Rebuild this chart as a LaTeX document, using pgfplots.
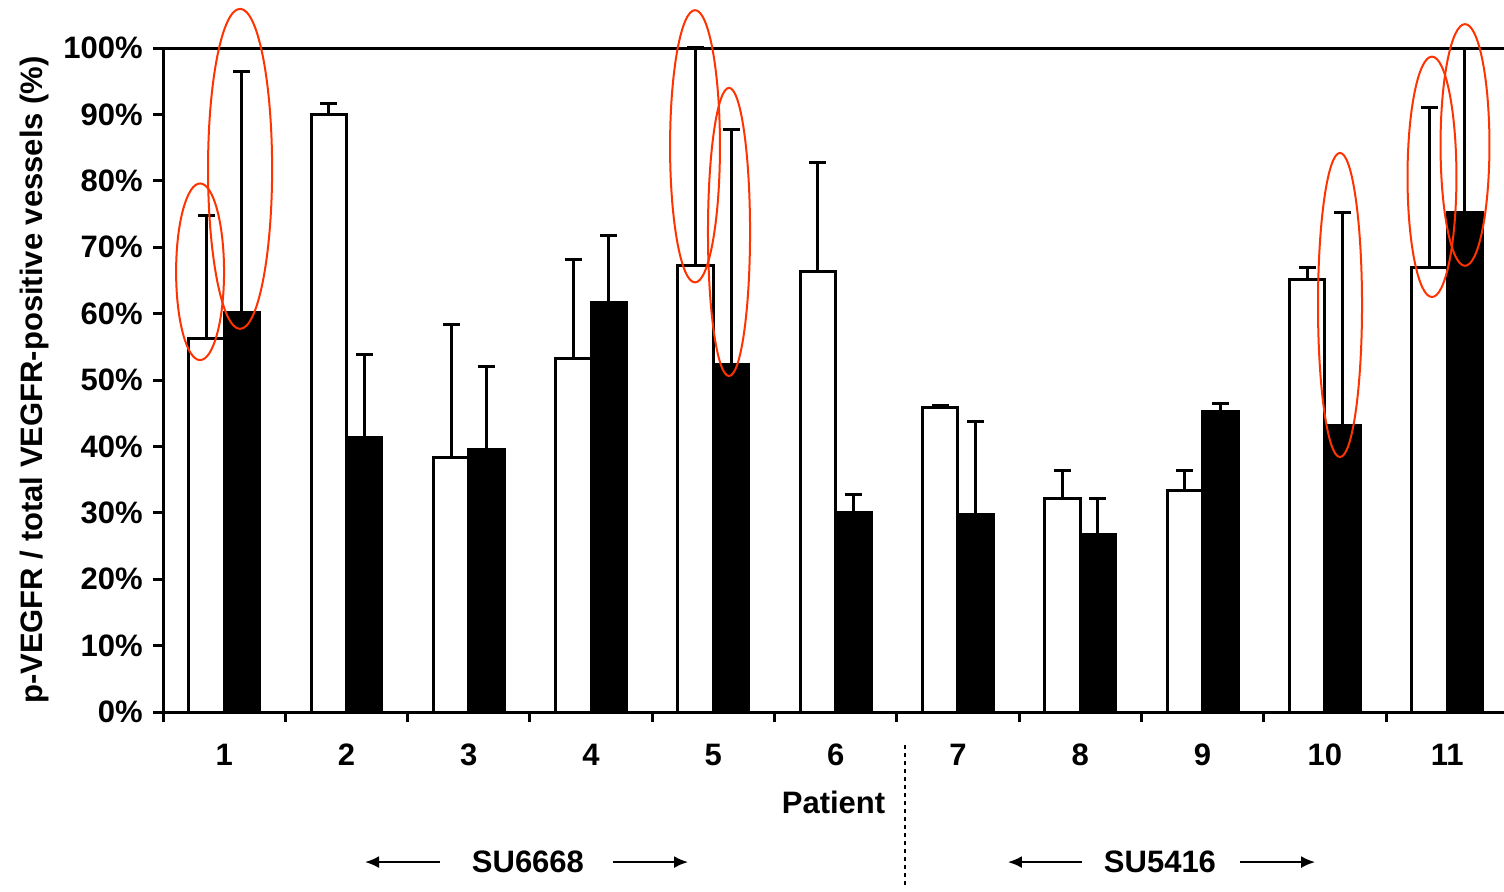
\documentclass[border=0pt]{standalone}
\usepackage{pgfplots}
\pgfplotsset{compat=1.18}
\usepackage{fontspec}
\setmainfont{Liberation Sans}
\usetikzlibrary{arrows.meta}
\definecolor{ellred}{RGB}{255,51,0}
\newcommand{\lbl}{\fontsize{15.5}{18}\selectfont\bfseries}

\begin{document}
\begin{tikzpicture}
\begin{axis}[
  scale only axis, width=670.5pt, height=332pt,
  xmin=0.5, xmax=11.465, ymin=0, ymax=100,
  axis lines*=left, axis line style={line width=1.5pt, -},
  clip=false,
  xtick={1,...,11},
  xticklabels={1,2,3,4,5,6,7,8,9,10,11},
  minor xtick={0.5,1.5,...,10.5},
  major x tick style={draw=none},
  minor tick length=5pt, major tick length=5pt,
  tick align=outside,
  tick style={line width=1.5pt, black},
  ytick={0,10,...,100},
  yticklabels={0\%,10\%,20\%,30\%,40\%,50\%,60\%,70\%,80\%,90\%,100\%},
  every tick label/.append style={font=\lbl},
  yticklabel style={anchor=east, inner xsep=0pt, xshift=-5pt},
  xticklabel style={anchor=center, inner sep=0pt, yshift=-16.5pt},
  xlabel={Patient},
  xlabel style={font=\lbl, at={(rel axis cs:0.5,0)}, anchor=center, yshift=-45pt},
  ylabel={p-VEGFR / total VEGFR-positive vessels (\%)},
  ylabel style={font=\lbl, at={(rel axis cs:0,0.5)}, anchor=center, yshift=64.5pt},
]
% white bars
\addplot[ybar, bar width=0.29, bar shift=0, fill=white, draw=black, line width=1.5pt,
  error bars/.cd, y dir=plus, y explicit,
  error bar style={line width=1.5pt, black},
  error mark options={rotate=90, mark size=4.25pt, line width=1.5pt, black}]
coordinates {
(0.855,56.3) +- (0,18.5)
(1.855,90.0) +- (0,1.7)
(2.855,38.4) +- (0,19.9)
(3.855,53.3) +- (0,14.9)
(4.855,67.2) +- (0,32.9)
(5.855,66.4) +- (0,16.3)
(6.855,45.9) +- (0,0.3)
(7.855,32.2) +- (0,4.1)
(8.855,33.4) +- (0,2.9)
(9.855,65.1) +- (0,1.9)
(10.855,67.0) +- (0,24.1)
};
% black bars
\addplot[ybar, bar width=0.29, bar shift=0, fill=black, draw=black, line width=1.5pt,
  error bars/.cd, y dir=plus, y explicit,
  error bar style={line width=1.5pt, black},
  error mark options={rotate=90, mark size=4.25pt, line width=1.5pt, black}]
coordinates {
(1.145,60.2) +- (0,36.2)
(2.145,41.3) +- (0,12.6)
(3.145,39.6) +- (0,12.4)
(4.145,61.6) +- (0,10.2)
(5.145,52.4) +- (0,35.3)
(6.145,30.0) +- (0,2.8)
(7.145,29.8) +- (0,14.0)
(8.145,26.7) +- (0,5.5)
(9.145,45.2) +- (0,1.2)
(10.145,43.1) +- (0,32.2)
(11.145,75.2) +- (0,24.8)
};
% top line
\draw[line width=1.5pt] (axis cs:0.5,100) -- (axis cs:11.465,100);
% red ellipses
\begin{scope}[ellred, line width=1pt]
\draw (axis cs:0.803,66.3) ellipse [x radius=0.196, y radius=13.3];
\draw (axis cs:1.130,81.8) ellipse [x radius=0.262, y radius=24.1];
\draw (axis cs:4.850,85.2) ellipse [x radius=0.204, y radius=20.5];
\draw (axis cs:5.128,72.3) ellipse [x radius=0.172, y radius=21.7];
\draw (axis cs:10.124,61.3) ellipse [x radius=0.180, y radius=22.9];
\draw (axis cs:10.876,80.6) ellipse [x radius=0.200, y radius=18.1];
\draw (axis cs:11.146,85.4) ellipse [x radius=0.200, y radius=18.2];
\end{scope}
% group annotations
\node[font=\lbl] at (axis cs:3.484,-22.6) {SU6668};
\node[font=\lbl] at (axis cs:8.652,-22.6) {SU5416};
\begin{scope}[line width=1pt, -{Latex[length=7pt,width=6pt]}]
\draw (axis cs:2.765,-22.6) -- (axis cs:2.152,-22.6);
\draw (axis cs:4.180,-22.6) -- (axis cs:4.793,-22.6);
\draw (axis cs:8.014,-22.6) -- (axis cs:7.409,-22.6);
\draw (axis cs:9.306,-22.6) -- (axis cs:9.920,-22.6);
\end{scope}
\draw[line width=1pt, dash pattern=on 2pt off 2pt] (axis cs:6.567,-4.97) -- (axis cs:6.567,-26.5);
\coordinate (BL) at (axis cs:-0.833,-26.96);
\coordinate (TR) at (axis cs:11.465,107.23);
\end{axis}
\pgfresetboundingbox
\path[use as bounding box] (BL) rectangle (TR);
\end{tikzpicture}
\end{document}
